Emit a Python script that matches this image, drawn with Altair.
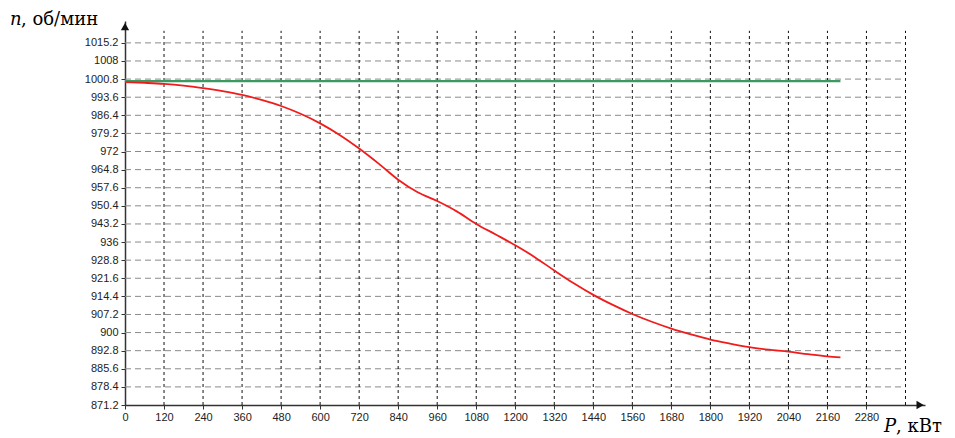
import altair as alt
import pandas as pd

# ---- data ----
p_red = [0, 60, 120, 180, 240, 300, 360, 420, 480, 540, 600, 660, 720, 780, 840, 900,
         960, 1020, 1080, 1140, 1200, 1260, 1320, 1380, 1440, 1500, 1560, 1620, 1680,
         1740, 1800, 1860, 1920, 1980, 2040, 2100, 2160, 2200]
n_red = [999.6, 999.3, 998.9, 998.2, 997.2, 996.0, 994.5, 992.5, 990.1, 987.0, 983.2,
         978.6, 973.2, 967.2, 960.8, 955.8, 952.3, 948.2, 943.2, 939.0, 934.7, 930.0,
         924.7, 919.6, 915.0, 911.0, 907.4, 904.3, 901.6, 899.3, 897.2, 895.6, 894.2,
         893.2, 892.4, 891.4, 890.5, 890.1]
p_green = [0, 2200]
n_green = [1000.0, 1000.0]

y_ticks = [871.2, 878.4, 885.6, 892.8, 900, 907.2, 914.4, 921.6, 928.8, 936, 943.2,
           950.4, 957.6, 964.8, 972, 979.2, 986.4, 993.6, 1000.8, 1008, 1015.2]
x_ticks = [0, 120, 240, 360, 480, 600, 720, 840, 960, 1080, 1200, 1320, 1440, 1560,
           1680, 1800, 1920, 2040, 2160, 2280]
x_grid = [120, 240, 360, 480, 600, 720, 840, 960, 1080, 1200, 1320, 1440, 1560, 1680,
          1800, 1920, 2040, 2160, 2280, 2400]

X_MIN, X_MAX, GRID_X_MAX = 0, 2460, 2400
Y_MIN, Y_MAX, GRID_Y_MAX = 871.2, 1023.9, 1020.0

W, H = 800, 384

xs = alt.Scale(domain=[X_MIN, X_MAX], nice=False, zero=False)
ys = alt.Scale(domain=[Y_MIN, Y_MAX], nice=False, zero=False)

font = "Liberation Sans"
serif = "DejaVu Serif"

x_axis = alt.Axis(values=x_ticks, title=None, grid=False, labelFont=font, format="d",
                  labelFontSize=11, labelColor="#222", domainColor="#333",
                  domainWidth=1.5, tickColor="#333", tickSize=4,
                  labelPadding=2, labelFlush=False, labelOverlap=False)
y_axis = alt.Axis(values=y_ticks, title=None, grid=False, labelFont=font,
                  labelFontSize=11, labelColor="#222", domainColor="#333",
                  domainWidth=1.5, tickColor="#333", tickSize=4,
                  labelPadding=3, labelFlush=False, labelOverlap=False,
                  format=".1~f")


def X(field):
    return alt.X(field, scale=xs, axis=x_axis)


def Y(field):
    return alt.Y(field, scale=ys, axis=y_axis)


red_df = pd.DataFrame({"P": p_red, "n": n_red})
green_df = pd.DataFrame({"P": p_green, "n": n_green})
hgrid_df = pd.DataFrame({"y": y_ticks[1:], "x1": X_MIN, "x2": GRID_X_MAX})
vgrid_df = pd.DataFrame({"x": x_grid, "y1": Y_MIN, "y2": GRID_Y_MAX})

hgrid = alt.Chart(hgrid_df).mark_rule(color="#8a8a8a", strokeDash=[6, 4], strokeWidth=1).encode(
    x=X("x1:Q"), x2="x2:Q", y=Y("y:Q"))
vgrid = alt.Chart(vgrid_df).mark_rule(color="#111", strokeDash=[3, 3], strokeWidth=1).encode(
    x=X("x:Q"), y=Y("y1:Q"), y2="y2:Q")

green = alt.Chart(green_df).mark_line(color="#3a9a62", strokeWidth=2.2).encode(
    x=X("P:Q"), y=Y("n:Q"))
red = alt.Chart(red_df).mark_line(color="#f01c1c", strokeWidth=1.8, interpolate="monotone").encode(
    x=X("P:Q"), y=Y("n:Q"))

arrow_df = pd.DataFrame({"x": [X_MAX - 15, X_MIN], "y": [Y_MIN, Y_MAX - 2.2],
                         "shape": ["triangle-right", "triangle-up"]})
arrows = alt.Chart(arrow_df).mark_point(filled=True, color="#111", size=70, opacity=1).encode(
    x=X("x:Q"), y=Y("y:Q"),
    shape=alt.Shape("shape:N", scale=None))

FS = 18
t_n = alt.Chart(pd.DataFrame({"t": ["n"]})).mark_text(
    font=serif, fontSize=FS, fontStyle="italic", align="left", baseline="alphabetic", color="#000"
).encode(x=alt.value(-115), y=alt.value(4), text="t:N")
t_n2 = alt.Chart(pd.DataFrame({"t": [", об/мин"]})).mark_text(
    font=serif, fontSize=FS, align="left", baseline="alphabetic", color="#000"
).encode(x=alt.value(-104), y=alt.value(4), text="t:N")
t_p = alt.Chart(pd.DataFrame({"t": ["P"]})).mark_text(
    font=serif, fontSize=FS, fontStyle="italic", align="left", baseline="alphabetic", color="#000"
).encode(x=alt.value(759), y=alt.value(411), text="t:N")
t_p2 = alt.Chart(pd.DataFrame({"t": [", кВт"]})).mark_text(
    font=serif, fontSize=FS, align="left", baseline="alphabetic", color="#000"
).encode(x=alt.value(771), y=alt.value(411), text="t:N")

chart = alt.layer(hgrid, vgrid, green, red, arrows, t_n, t_n2, t_p, t_p2).properties(
    width=W, height=H,
    autosize=alt.AutoSizeParams(type="none"),
    padding={"left": 125, "top": 21, "right": 30, "bottom": 33},
    background="white",
).configure_view(stroke=None)

chart.save("out.html", embed_options={"renderer": "svg", "actions": False})
